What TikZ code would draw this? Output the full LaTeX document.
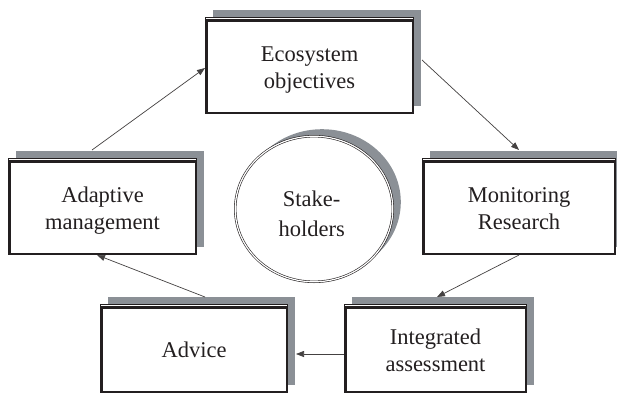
\documentclass[tikz,border=0pt]{standalone}
\usepackage{fontspec}
\setmainfont{Liberation Serif}
\usetikzlibrary{arrows.meta,shapes.geometric,shadows}
\definecolor{shgray}{RGB}{139,144,150}
\definecolor{ink}{RGB}{35,31,32}
\newcommand{\mytwo}[2]{\rule{0pt}{23.6pt}#1\\#2\rule[-5pt]{0pt}{5pt}}
\newcommand{\myone}[1]{\rule[-5pt]{0pt}{28.6pt}#1}
\tikzset{
  box/.style={draw=ink, line width=1pt, fill=white, rectangle, inner sep=0pt,
    align=center, text=ink, font=\fontsize{22.5}{27.3}\selectfont,
    general shadow={shadow xshift=7.5pt, shadow yshift=7.5pt, fill=shgray}},
  innerframe/.style={draw=ink, line width=2.4pt},
  oval/.style={ellipse, draw=ink, line width=0.6pt, double=white, double distance=1.2pt,
    fill=white, inner sep=0pt, minimum width=157.6pt, minimum height=145.6pt,
    general shadow={shadow xshift=8pt, shadow yshift=7pt, fill=shgray}},
  ovaltext/.style={align=center, text=ink, inner sep=0pt, font=\fontsize{22.5}{30}\selectfont},
  conn/.style={draw=ink!85, line width=0.7pt, -{Triangle[length=8pt,width=6pt]}}
}
\begin{document}
\begin{tikzpicture}[x=1pt,y=-1pt]
\useasboundingbox (0,0) rectangle (617,394);
\fill[white] (0,0) rectangle (617,394);
\node[box, minimum width=208pt, minimum height=96pt] (eco) at (309.5,65.5) {\mytwo{Ecosystem}{objectives}};
\node[box, minimum width=193pt, minimum height=96pt] (mon) at (519,206.5) {\mytwo{Monitoring}{Research}};
\node[box, minimum width=188pt, minimum height=96pt] (ada) at (102.5,206.5) {\mytwo{Adaptive}{management}};
\node[box, minimum width=187pt, minimum height=88pt] (adv) at (194,348.5) {\myone{Advice}};
\node[box, minimum width=182pt, minimum height=88pt] (int) at (435.5,348.5) {\mytwo{Integrated}{assessment}};
\foreach \n in {eco,mon,ada,adv,int}
  \draw[innerframe] ([xshift=1.3pt,yshift=-3.5pt]\n.north west) rectangle ([xshift=-1.3pt,yshift=1.3pt]\n.south east);
\node[oval] (stake) at (314,209) {};
\node[ovaltext] (staketext) at (311.7,211.7) {\mytwo{Stake-}{holders}};
\draw[conn] ([xshift=-10.5pt,yshift=8pt]ada.north) -- ([yshift=-2.5pt]eco.west);
\draw[conn] ([xshift=8pt,yshift=5.5pt]eco.east) -- ([yshift=8pt]mon.north);
\draw[conn] (mon.south) -- ([xshift=1.5pt,yshift=7pt]int.north);
\draw[conn] ([yshift=-5.5pt]int.west) -- ([xshift=8pt,yshift=-5.5pt]adv.east);
\draw[conn] ([xshift=11pt,yshift=7pt]adv.north) -- ([xshift=-5.5pt]ada.south);
\end{tikzpicture}
\end{document}
